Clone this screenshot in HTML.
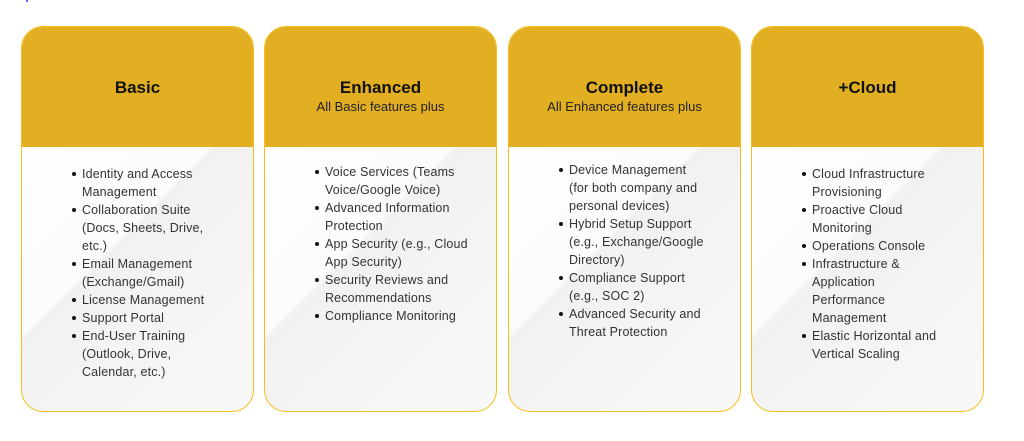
<!DOCTYPE html>
<html><head><style>
body{margin:0;width:1024px;height:441px;background:#fff;font-family:"Liberation Sans",sans-serif;position:relative;overflow:hidden}
.card{position:absolute;top:26px;width:231px;height:384px;border:1.5px solid #F6BE1A;border-radius:22px;overflow:hidden;background:linear-gradient(135deg,#fff 0%,#fcfcfc 50%,#f1f1f1 51%,#f9f9f9 100%)}
.hd{height:120px;background:#E2AE22;text-align:center;color:#111}
.t{font-weight:bold;font-size:17px;padding-top:51px;line-height:20px}
.s{font-size:13px;line-height:17px;color:#222}
ul{margin:0;padding:0;list-style:none;position:absolute;top:138px;font-size:12.5px;line-height:18px;color:#333;letter-spacing:0.15px}
li{position:relative;white-space:nowrap}
li:before{content:"";position:absolute;left:-10px;top:7px;width:4px;height:4px;border-radius:50%;background:#111}
</style></head><body>
<div style="position:absolute;left:26px;top:0;width:2px;height:2px;background:#66f"></div>
<div class="card" style="left:21px"><div class="hd"><div class="t">Basic</div></div>
<ul style="left:60px"><li>Identity and Access<br>Management</li><li>Collaboration Suite<br>(Docs, Sheets, Drive,<br>etc.)</li><li>Email Management<br>(Exchange/Gmail)</li><li>License Management</li><li>Support Portal</li><li>End-User Training<br>(Outlook, Drive,<br>Calendar, etc.)</li></ul></div>
<div class="card" style="left:264px"><div class="hd"><div class="t">Enhanced</div><div class="s">All Basic features plus</div></div>
<ul style="left:60px;top:136px"><li>Voice Services (Teams<br>Voice/Google Voice)</li><li>Advanced Information<br>Protection</li><li>App Security (e.g., Cloud<br>App Security)</li><li>Security Reviews and<br>Recommendations</li><li>Compliance Monitoring</li></ul></div>
<div class="card" style="left:508px"><div class="hd"><div class="t">Complete</div><div class="s">All Enhanced features plus</div></div>
<ul style="left:60px;top:134px"><li>Device Management<br>(for both company and<br>personal devices)</li><li>Hybrid Setup Support<br>(e.g., Exchange/Google<br>Directory)</li><li>Compliance Support<br>(e.g., SOC 2)</li><li>Advanced Security and<br>Threat Protection</li></ul></div>
<div class="card" style="left:751px"><div class="hd"><div class="t">+Cloud</div></div>
<ul style="left:60px"><li>Cloud Infrastructure<br>Provisioning</li><li>Proactive Cloud<br>Monitoring</li><li>Operations Console</li><li>Infrastructure &amp;<br>Application<br>Performance<br>Management</li><li>Elastic Horizontal and<br>Vertical Scaling</li></ul></div>
</body></html>
